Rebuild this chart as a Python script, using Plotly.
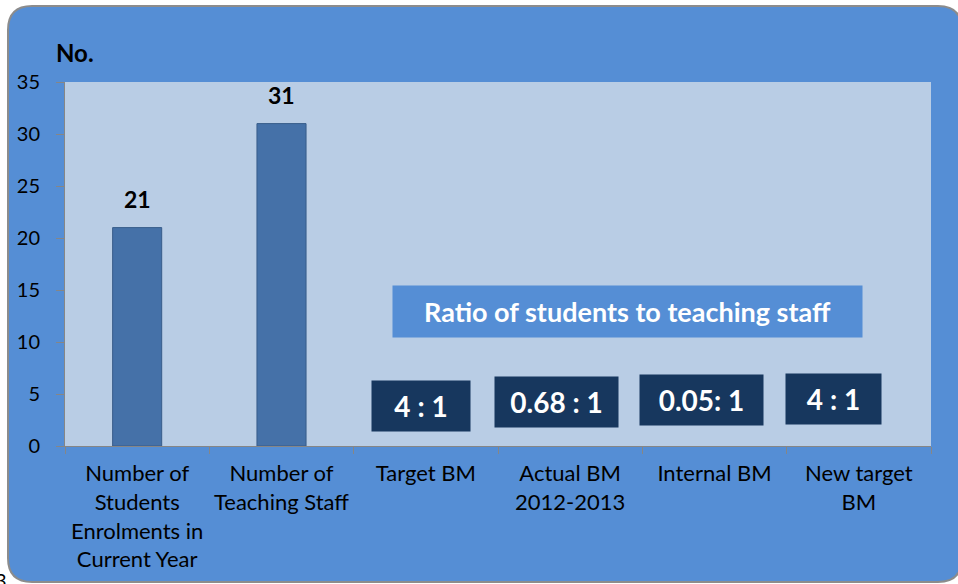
import plotly.graph_objects as go

# data
categories = [
    "Number of<br>Students<br>Enrolments in<br>Current Year",
    "Number of<br>Teaching Staff",
    "Target BM",
    "Actual BM<br>2012-2013",
    "Internal BM",
    "New target<br>BM",
]
counts = [21, 31, None, None, None, None]
ratio_categories = categories[2:]
ratio_labels = ["4 : 1", "0.68 : 1", "0.05: 1", "4 : 1"]
y_ticks = [0, 5, 10, 15, 20, 25, 30, 35]

W, H = 958, 584
ML, MR, MT, MB = 65, 27, 82, 138
PW, PH = W - ML - MR, H - MT - MB

OUTER = "#558ED5"
PLOT_BG = "#B9CDE5"
BAR = "#4571A8"
NAVY = "#17375E"
FONT = "Lato, 'Open Sans', sans-serif"


def px_x(px):
    return (px - ML) / PW


def px_y(py):
    return (H - MB - py) / PH


fig = go.Figure()
fig.add_trace(go.Bar(
    x=categories, y=counts,
    width=0.34,
    marker=dict(color=BAR, line=dict(color="#385D8A", width=1)),
    showlegend=False, hoverinfo="skip",
))

# rounded outer frame, drawn in paper coords
x0, x1 = px_x(8), px_x(962)
y0, y1 = px_y(582), px_y(6)
rx, ry = 24 / PW, 24 / PH
frame = (
    f"M {x0 + rx},{y1} L {x1 - rx},{y1} Q {x1},{y1} {x1},{y1 - ry} "
    f"L {x1},{y0 + ry} Q {x1},{y0} {x1 - rx},{y0} "
    f"L {x0 + rx},{y0} Q {x0},{y0} {x0},{y0 + ry} "
    f"L {x0},{y1 - ry} Q {x0},{y1} {x0 + rx},{y1} Z"
)
shapes = [
    dict(type="path", path=frame, xref="paper", yref="paper", layer="below",
         fillcolor=OUTER, line=dict(color="#8C8C8C", width=2)),
    dict(type="rect", xref="paper", yref="paper", x0=0, x1=1, y0=0, y1=1,
         layer="below", fillcolor=PLOT_BG, line=dict(width=0)),
]

annotations = [
    dict(text="<b>No.</b>", xref="paper", yref="paper", x=px_x(54), y=px_y(52),
         xanchor="left", yanchor="middle", showarrow=False,
         font=dict(size=24, color="black", family=FONT)),
    dict(text="<b>Ratio of students to teaching staff</b>", xref="paper", yref="paper",
         x=px_x(627.5), y=px_y(311.5), xanchor="center", yanchor="middle",
         width=469, height=51, bgcolor=OUTER, borderpad=0, showarrow=False,
         font=dict(size=27, color="white", family=FONT)),
    dict(text="3", xref="paper", yref="paper", x=px_x(9), y=px_y(580),
         xanchor="right", yanchor="middle", showarrow=False,
         font=dict(size=20, color="black", family=FONT)),
]

for c, v in zip(categories, counts):
    if v is None:
        continue
    annotations.append(dict(
        text=f"<b>{v}</b>", x=c, y=v, xref="x", yref="y",
        yanchor="bottom", yshift=13, showarrow=False,
        font=dict(size=23, color="black", family=FONT)))

# ratio boxes: (x shift from category centre, box centre y in px, box width)
box_geom = [(-5, 405.5, 98), (-13.5, 402, 123), (-13.5, 400, 123), (-25.5, 399, 95)]
for c, lab, (dx, cy, bw) in zip(ratio_categories, ratio_labels, box_geom):
    annotations.append(dict(
        text=f"<b>{lab}</b>", x=c, xref="x", xshift=dx,
        y=px_y(cy), yref="paper", xanchor="center", yanchor="middle",
        width=bw, height=50, bgcolor=NAVY, borderpad=0, showarrow=False,
        font=dict(size=28, color="white", family=FONT)))

fig.update_layout(
    width=W, height=H,
    margin=dict(l=ML, r=MR, t=MT, b=MB, autoexpand=False),
    paper_bgcolor="white",
    plot_bgcolor="rgba(0,0,0,0)",
    shapes=shapes,
    annotations=annotations,
    font=dict(family=FONT, color="black"),
    xaxis=dict(
        showgrid=False, zeroline=False,
        showline=True, linecolor="#868686", linewidth=1,
        ticks="outside", tickson="boundaries", ticklen=7, tickcolor="#868686",
        ticklabelstandoff=8, tickangle=0, automargin=False,
        tickfont=dict(size=22, color="black", family=FONT),
        fixedrange=True,
    ),
    yaxis=dict(
        range=[0, 35], tickvals=y_ticks,
        showgrid=False, zeroline=False,
        showline=True, linecolor="#868686", linewidth=1,
        ticks="outside", ticklen=8, tickcolor="#868686",
        ticklabelstandoff=12, automargin=False,
        tickfont=dict(size=20, color="black", family=FONT),
        fixedrange=True,
    ),
)

# drop the browser's default 8px body margin so the chart sits at the page corner
fig.write_html("out.html", config={"displayModeBar": False},
               post_script="document.body.style.margin='0';")
